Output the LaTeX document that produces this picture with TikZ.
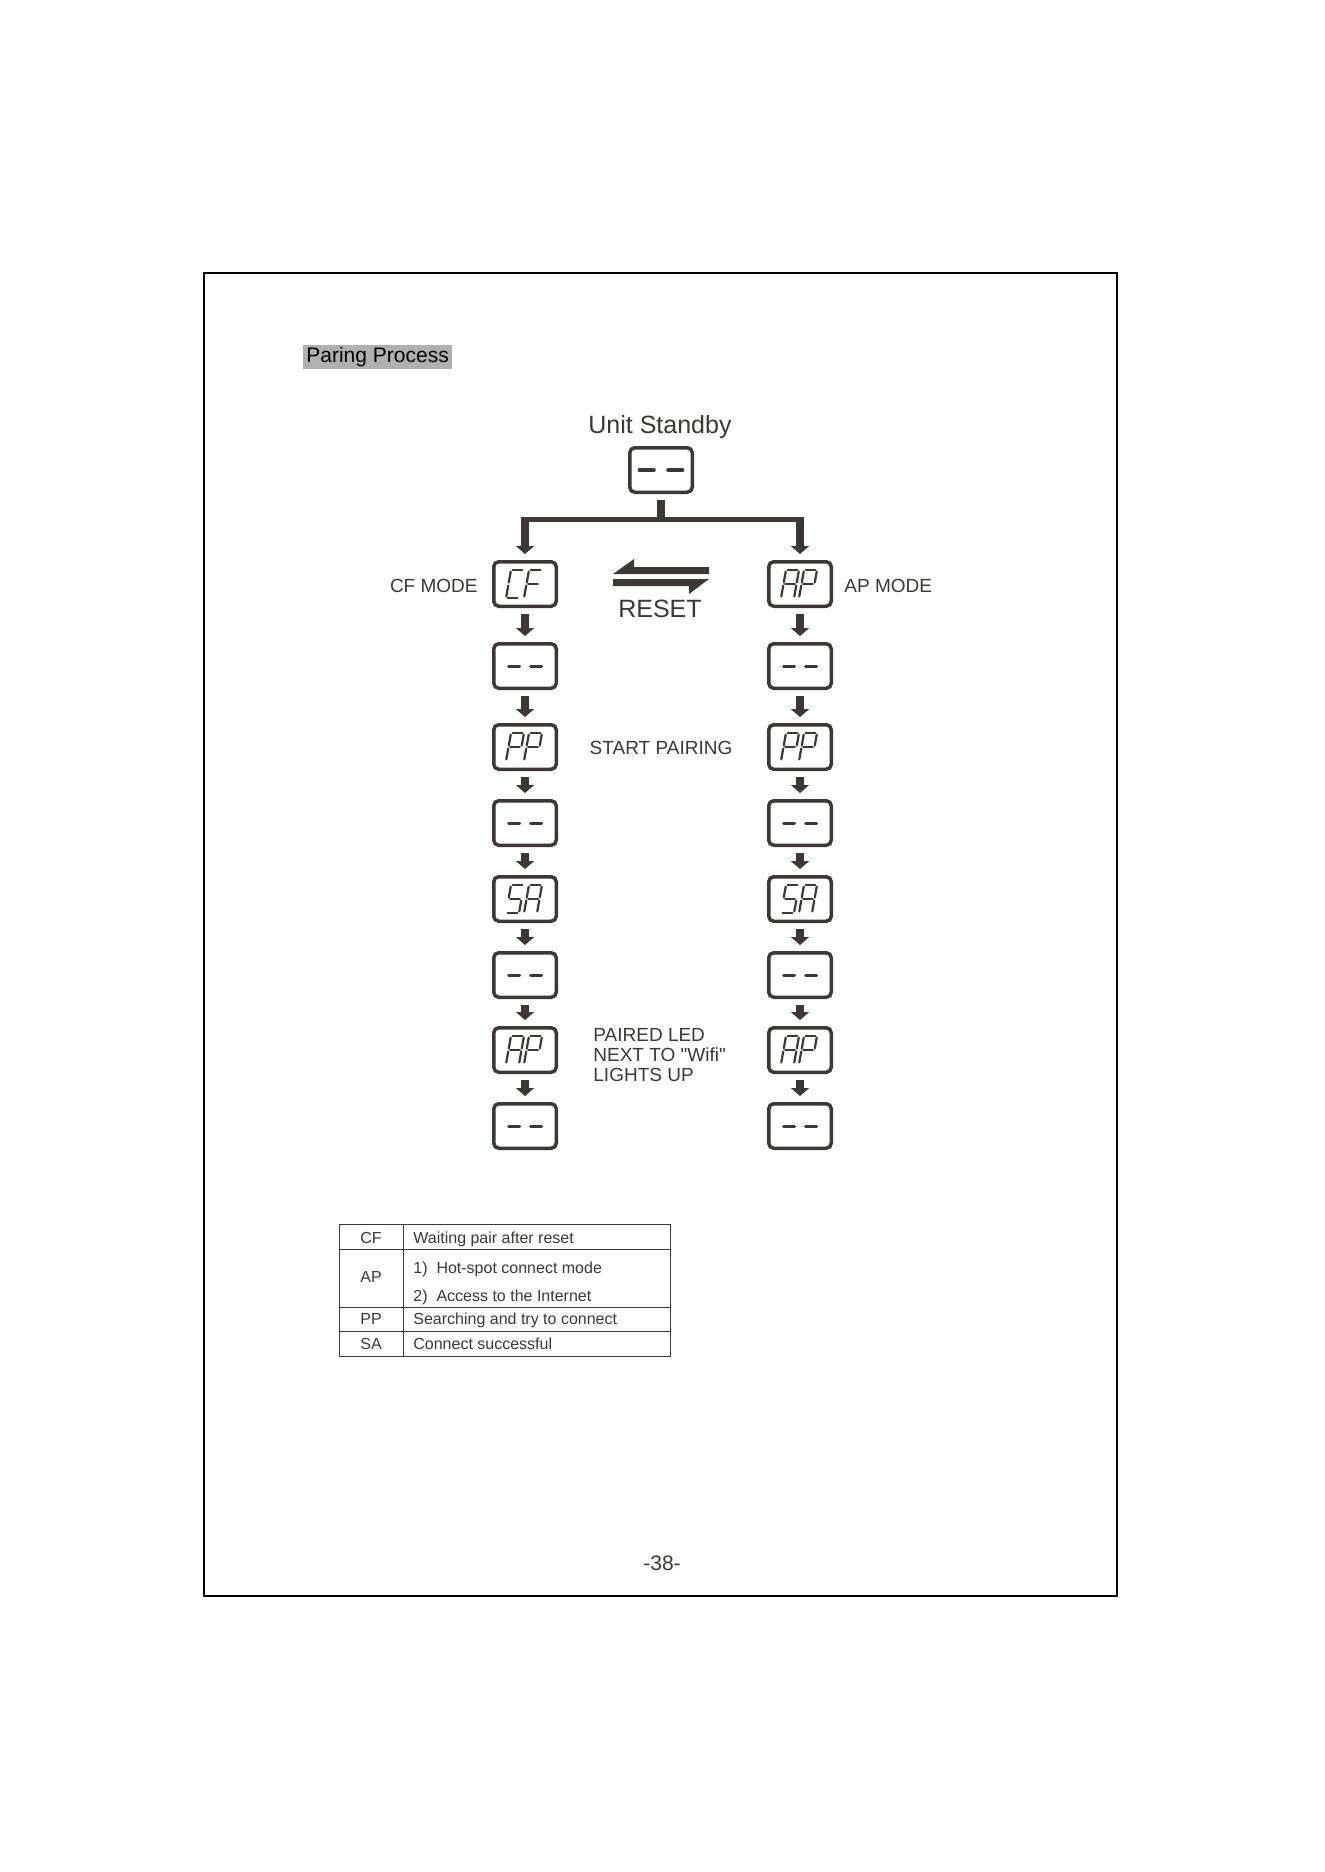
\documentclass[tikz,border=0pt]{standalone}
\usepackage{fontspec}
\setmainfont{Liberation Sans}[Ligatures=TeXOff]
\usetikzlibrary{arrows.meta}
\usepackage{xcolor}
\definecolor{ledDark}{RGB}{61,56,53}
\definecolor{titleGray}{RGB}{176,176,176}

% seven-segment letters (corner pairs of one digit)
\newcommand{\segC}{tl/tr,tl/ml,ml/bl,bl/br}
\newcommand{\segF}{tl/tr,tl/ml,ml/bl,ml/mr}
\newcommand{\segA}{tl/tr,tr/mr,mr/br,tl/ml,ml/bl,ml/mr}
\newcommand{\segP}{tl/tr,tr/mr,tl/ml,ml/bl,ml/mr}
\newcommand{\segS}{tl/tr,tl/ml,ml/mr,mr/br,bl/br}

\newcommand{\ledchar}[3]{%
  \begin{scope}[shift={(#1.center)},shift={(#2,14)}]
    \coordinate (bl) at (0,0);     \coordinate (br) at (13,0);
    \coordinate (ml) at (2.5,-14); \coordinate (mr) at (15.5,-14);
    \coordinate (tl) at (5,-28);   \coordinate (tr) at (18,-28);
    \foreach \p/\q in #3 \draw[ledseg] (\p) -- (\q);
  \end{scope}}
\newcommand{\ledpair}[3]{\ledchar{#1}{-19}{#2}\ledchar{#1}{-1}{#3}}
\newcommand{\ledblank}[2][1]{%
  \begin{scope}[shift={(#2.center)},xscale=#1]
    \draw[ledseg,line width=#1*1.5pt,shorten <=0pt,shorten >=0pt]
      (-16.5,0) -- (-5.5,0) (5.5,0) -- (16.5,0);
  \end{scope}}

\begin{document}
\begin{tikzpicture}[x=0.5pt,y=-0.5pt,
    ledbox/.style={draw=ledDark,line width=1.75pt,rounded corners=2.5pt,
      minimum width=31.25pt,minimum height=22.25pt,inner sep=0pt},
    ledseg/.style={ledDark,line width=1.1pt,line cap=round,
      shorten <=0.8pt,shorten >=0.8pt},
    ledflow/.style={ledDark,line width=4pt,-{Triangle[width=9pt,length=4pt]},
      shorten <=3pt,shorten >=3pt},
    ledbus/.style={ledDark,line width=2.5pt},
    modetext/.style={ledDark,inner sep=0pt,font=\fontsize{9.5}{10}\selectfont},
    tabtext/.style={ledDark,inner sep=0pt,font=\fontsize{8}{9}\selectfont},
    tabline/.style={ledDark,line width=0.5pt}]
        % page
        \fill[white] (0,0) rectangle (1324,1872);
        \useasboundingbox (0,0) rectangle (1324,1872);
        \draw[line width=1.2pt] (204,273) rectangle (1117,1596);
        \node[fill=titleGray,anchor=west,inner xsep=1.5pt,inner ysep=0pt,
          minimum height=12pt,font=\fontsize{10.5}{12}\selectfont] (title) at (303,357) {Paring Process};
        % standby and split
        \node[ledDark,inner sep=0pt,anchor=base,font=\fontsize{12.5}{14}\selectfont] (standbytext) at (660,433) {Unit Standby};
        \node[ledbox] (standby) at (661,470) {};
        \coordinate (split) at (661,519);
        % columns
        \foreach \i/\y in {1/584,2/666,3/747,4/823,5/899,6/975,7/1050,8/1126} {
            \node[ledbox] (cf\i) at (525,\y) {};
            \node[ledbox] (ap\i) at (800,\y) {};
        }
        % arrows
        \draw[ledflow,shorten >=0pt,-] (standby) -- (split);
        \draw[ledbus] ([xshift=-2pt]cf1 |- split) -- ([xshift=2pt]ap1 |- split);
        \draw[ledflow,shorten <=0pt] (cf1 |- split) -- (cf1);
        \draw[ledflow,shorten <=0pt] (ap1 |- split) -- (ap1);
        \foreach \i [count=\j from 2] in {1,...,7} {
            \draw[ledflow] (cf\i) -- (cf\j);
            \draw[ledflow] (ap\i) -- (ap\j);
        }
        % displays
        \ledblank[1.3]{standby}
        \foreach \b in {cf2,cf4,cf6,cf8,ap2,ap4,ap6,ap8} {\ledblank{\b}}
        \ledpair{cf1}{\segC}{\segF}
        \ledpair{ap1}{\segA}{\segP}
        \ledpair{cf3}{\segP}{\segP}
        \ledpair{ap3}{\segP}{\segP}
        \ledpair{cf5}{\segS}{\segA}
        \ledpair{ap5}{\segS}{\segA}
        \ledpair{cf7}{\segA}{\segP}
        \ledpair{ap7}{\segA}{\segP}
        % reset
        \fill[ledDark] (613,574) -- (634,559) -- (634,567) -- (709,567) -- (709,574) -- cycle;
        \fill[ledDark] (613,579) -- (709,579) -- (689,594) -- (689,586) -- (613,586) -- cycle;
        \node[ledDark,inner sep=0pt,anchor=base,font=\fontsize{12.5}{14}\selectfont] (reset) at (660,617) {RESET};
        % labels
        \node[modetext,anchor=base east] (cfmode) at (478,592) {CF MODE};
        \node[modetext,anchor=base west] (apmode) at (844,592) {AP MODE};
        \node[modetext,anchor=base] (start) at (661,754) {START PAIRING};
        \node[modetext,anchor=base west,align=left] (paired) at (593,1081)
            {PAIRED LED\\NEXT TO "Wifi"\\LIGHTS UP};
        % table
        \draw[tabline] (339,1224) rectangle (670,1356);
        \draw[tabline] (403,1224) -- (403,1356);
        \foreach \y in {1249,1307,1331.5} \draw[tabline] (339,\y) -- (670,\y);
        \node[tabtext,anchor=base] (keycf) at (371,1243) {CF};
        \node[tabtext,anchor=base] (keyap) at (371,1282) {AP};
        \node[tabtext,anchor=base] (keypp) at (371,1324) {PP};
        \node[tabtext,anchor=base] (keysa) at (371,1349.5) {SA};
        \node[tabtext,anchor=base west] (txtcf) at (413,1243) {Waiting pair after reset};
        \node[tabtext,anchor=base west] (txtap) at (413,1273.5) {1)\ \ Hot-spot connect mode};
        \node[tabtext,anchor=base west] (txtnet) at (413,1301) {2)\ \ Access to the Internet};
        \node[tabtext,anchor=base west] (txtpp) at (413,1324) {Searching and try to connect};
        \node[tabtext,anchor=base west] (txtsa) at (413,1349.5) {Connect successful};
        % page number
        \node[ledDark,inner sep=0pt,anchor=base,font=\fontsize{10.5}{12}\selectfont] (pageno) at (662,1570) {-38-};
    \end{tikzpicture}
\end{document}
